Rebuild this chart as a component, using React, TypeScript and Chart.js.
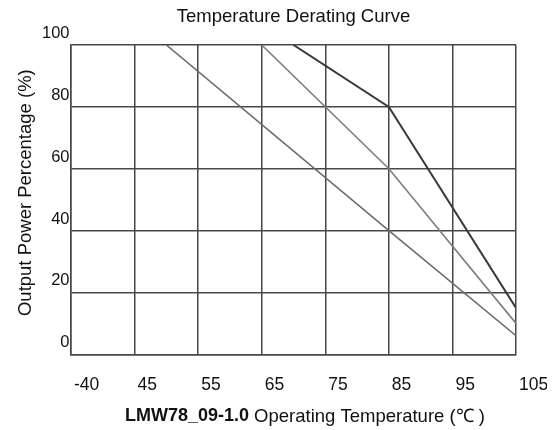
import React, { useEffect, useRef } from "react";
import { Chart, registerables } from "chart.js";

Chart.register(...registerables);

const chartTitle = "Temperature Derating Curve";
const yAxisTitle = "Output Power Percentage (%)";
const xAxisTitleBold = "LMW78_09-1.0";
const xAxisTitleNormal = "Operating Temperature (℃ )";

// x tick positions (temperature scale) and the labels printed under them
const xTickValues = [35, 45, 55, 65, 75, 85, 95, 105];
const xTickLabels = ["-40", "45", "55", "65", "75", "85", "95", "105"];
const yTickValues = [0, 20, 40, 60, 80, 100];

// three derating curves: temperature (°C) vs output power (%)
const curveATemp = [50, 85, 105];
const curveAPower = [100, 40, 6];
const curveBTemp = [65, 85, 105];
const curveBPower = [100, 60, 10];
const curveCTemp = [70, 85, 105];
const curveCPower = [100, 80, 15];

const FONT = "'Liberation Sans', Arial, sans-serif";
const GRID = "#474747";

const toPoints = (xs: number[], ys: number[]) => xs.map((x, i) => ({ x, y: ys[i] }));

const axisTitles = {
  id: "axisTitles",
  afterDraw(chart: any) {
    const { ctx, chartArea } = chart;
    ctx.save();
    ctx.fillStyle = "#111";
    // y title
    ctx.translate(18, (chartArea.top + chartArea.bottom) / 2 - 7);
    ctx.rotate(-Math.PI / 2);
    ctx.font = `18.5px ${FONT}`;
    ctx.textAlign = "center";
    ctx.textBaseline = "middle";
    ctx.fillText(yAxisTitle, 0, 0);
    ctx.restore();

    ctx.save();
    ctx.fillStyle = "#111";
    ctx.textBaseline = "middle";
    ctx.textAlign = "left";
    ctx.font = `bold 18px ${FONT}`;
    const wb = ctx.measureText(xAxisTitleBold + " ").width;
    ctx.font = `18.5px ${FONT}`;
    const wn = ctx.measureText(xAxisTitleNormal).width;
    const cx = (chartArea.left + chartArea.right) / 2 + 11.5;
    const x0 = cx - (wb + wn) / 2;
    const y = 408.5;
    ctx.font = `bold 18px ${FONT}`;
    ctx.fillText(xAxisTitleBold, x0, y);
    ctx.font = `18.5px ${FONT}`;
    ctx.fillText(xAxisTitleNormal, x0 + wb, y);
    ctx.restore();
  },
};

export default function App() {
  const ref = useRef<HTMLCanvasElement>(null);
  useEffect(() => {
    document.documentElement.style.overflow = "hidden";
    const canvas = ref.current!;
    const chart = new Chart(canvas, {
      type: "line",
      data: {
        datasets: [
          {
            data: toPoints(curveATemp, curveAPower),
            borderColor: "#6c6c6c",
            borderWidth: 1.6,
            pointRadius: 0,
            tension: 0,
          },
          {
            data: toPoints(curveBTemp, curveBPower),
            borderColor: "#7e7e7e",
            borderWidth: 1.6,
            pointRadius: 0,
            tension: 0,
          },
          {
            data: toPoints(curveCTemp, curveCPower),
            borderColor: "#3a3a3a",
            borderWidth: 2,
            pointRadius: 0,
            tension: 0,
          },
        ],
      },
      options: {
        responsive: false,
        animation: false,
        layout: { padding: { left: 0, right: 31, top: 0, bottom: 0 } },
        plugins: {
          legend: { display: false },
          tooltip: { enabled: false },
          title: {
            display: true,
            text: chartTitle,
            fullSize: false,
            color: "#111",
            font: { family: FONT, size: 18.5, weight: "normal", lineHeight: 0.94 },
            padding: { top: 0, bottom: 19.6 },
          },
        },
        scales: {
          x: {
            type: "linear",
            min: 35,
            max: 105,
            afterBuildTicks: (s: any) => {
              s.ticks = xTickValues.map((v) => ({ value: v }));
            },
            afterFit: (s: any) => {
              s.height = 422 - 346.3;
              s.paddingLeft = 0;
              s.paddingRight = 0;
            },
            grid: { color: GRID, lineWidth: 1.5, drawTicks: false },
            border: { color: GRID, width: 1.5 },
            ticks: {
              align: "start",
              labelOffset: 3,
              padding: 20.2,
              color: "#111",
              font: { family: FONT, size: 17.5 },
              autoSkip: false,
              maxRotation: 0,
              callback: (_v: any, i: number) => xTickLabels[i],
            },
          },
          y: {
            type: "linear",
            min: 0,
            max: 100,
            afterBuildTicks: (s: any) => {
              s.ticks = yTickValues.map((v) => ({ value: v }));
            },
            afterFit: (s: any) => {
              s.width = 63;
              s.paddingTop = 0;
              s.paddingBottom = 0;
            },
            grid: { color: GRID, lineWidth: 1.5, drawTicks: false },
            border: { color: GRID, width: 1.5 },
            ticks: {
              padding: 1.5,
              labelOffset: -11.5,
              color: "#111",
              font: { family: FONT, size: 16.5 },
            },
          },
        },
      },
      plugins: [axisTitles],
    });
    return () => chart.destroy();
  }, []);
  return (
    <div style={{ width: 539, height: 422 }}>
      <canvas ref={ref} width={539} height={422} style={{ display: "block" }} />
    </div>
  );
}
